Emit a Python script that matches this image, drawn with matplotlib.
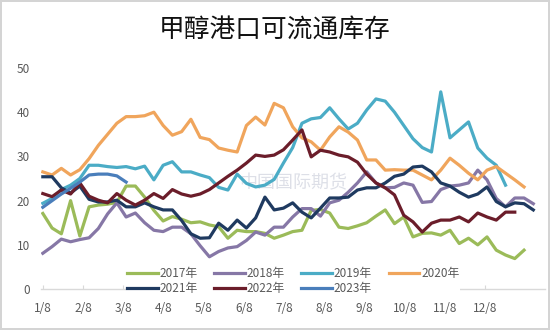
import numpy as np
import matplotlib
matplotlib.use("Agg")
import matplotlib.pyplot as plt

plt.rcParams['font.family'] = ['Noto Sans CJK SC', 'DejaVu Sans']

title = "甲醇港口可流通库存"
month_labels = ["1/8", "2/8", "3/8", "4/8", "5/8", "6/8", "7/8", "8/8", "9/8", "10/8", "11/8", "12/8"]
y_ticks = [0, 10, 20, 30, 40, 50]

s2017 = [17.1, 13.8, 12.5, 20.0, 12.0, 18.6, 19.0, 19.2, 19.6, 23.3, 23.3, 20.8, 17.8, 15.4, 16.4, 15.8,
         15.0, 15.2, 14.5, 14.1, 11.5, 13.3, 13.0, 13.0, 12.6, 11.5, 12.2, 13.0, 13.3, 17.8, 18.0, 17.2,
         14.0, 13.7, 14.3, 15.0, 16.5, 17.9, 14.8, 16.3, 11.8, 12.6, 12.7, 12.2, 13.3, 10.3, 11.5, 10.0,
         11.8, 8.8, 7.7, 6.9, 8.8]
s2018 = [8.1, 9.6, 11.3, 10.7, 11.2, 11.6, 13.7, 17.0, 19.5, 16.3, 17.2, 15.0, 13.3, 13.0, 14.0, 14.0,
         12.5, 9.8, 7.3, 8.5, 9.3, 9.6, 11.0, 12.9, 12.2, 14.0, 14.0, 16.3, 18.2, 18.2, 16.5, 19.5,
         20.1, 21.9, 24.0, 26.5, 24.0, 22.9, 23.0, 24.0, 23.5, 19.6, 19.8, 22.5, 23.3, 23.5, 24.0, 26.9,
         24.7, 20.5, 18.6, 20.6, 20.6, 19.3]
s2019 = [19.4, 20.5, 22.5, 23.5, 25.0, 28.0, 28.0, 27.7, 27.5, 27.7, 27.2, 27.8, 24.7, 28.0, 28.8, 26.5,
         26.5, 25.8, 25.2, 23.0, 22.4, 26.0, 23.9, 23.1, 23.5, 24.8, 28.5, 32.0, 37.5, 38.5, 38.8, 41.0,
         38.5, 36.2, 37.5, 40.5, 43.0, 42.5, 40.0, 37.0, 34.0, 32.0, 31.0, 44.6, 34.2, 36.0, 37.8, 31.9,
         29.6, 28.0, 23.5]
s2020 = [26.5, 25.8, 27.3, 25.8, 27.0, 29.5, 32.5, 35.0, 37.5, 39.0, 39.0, 39.2, 40.0, 37.0, 34.8, 35.6,
         38.4, 34.3, 33.8, 31.9, 31.4, 31.0, 37.0, 38.9, 37.1, 42.0, 41.0, 36.7, 34.2, 33.3, 31.4, 34.4,
         36.7, 35.5, 33.7, 29.2, 29.2, 26.9, 27.0, 26.9, 26.9, 25.8, 24.7, 26.9, 29.6, 28.0, 26.2, 24.7,
         26.9, 27.7, 26.2, 24.7, 23.1]
s2021 = [25.4, 25.4, 22.9, 21.7, 23.3, 20.3, 19.7, 19.7, 20.1, 18.6, 18.6, 19.5, 18.6, 17.9, 17.9, 15.5,
         12.5, 11.5, 11.6, 14.9, 13.3, 15.6, 13.8, 16.1, 20.8, 17.9, 18.3, 19.5, 17.4, 16.1, 18.3, 20.6,
         20.6, 20.8, 22.4, 22.9, 22.9, 24.0, 25.5, 26.0, 27.6, 27.8, 26.5, 24.0, 23.3, 21.9, 20.8, 21.5,
         23.1, 19.8, 18.6, 19.5, 19.3, 17.9]
s2022 = [21.6, 20.9, 22.4, 21.5, 24.0, 21.0, 20.1, 19.5, 21.6, 20.1, 19.0, 20.1, 21.6, 20.5, 22.5, 21.5,
         21.0, 21.5, 22.5, 24.0, 25.5, 26.9, 28.5, 30.3, 30.0, 30.3, 31.5, 33.7, 36.0, 29.9, 31.4, 31.0,
         30.3, 29.9, 28.7, 26.0, 24.0, 22.9, 21.3, 16.7, 15.2, 12.9, 14.9, 15.6, 15.6, 16.3, 15.2, 17.2,
         16.3, 15.6, 17.4, 17.4]
s2023 = [18.5, 20.0, 21.5, 22.8, 24.2, 25.8, 26.0, 26.0, 25.6, 24.2]

series = [
    ("2017年", s2017, "#9BBB59"),
    ("2018年", s2018, "#8677A6"),
    ("2019年", s2019, "#4BACC6"),
    ("2020年", s2020, "#F0A55C"),
    ("2021年", s2021, "#1F3A60"),
    ("2022年", s2022, "#6B1D2A"),
    ("2023年", s2023, "#4A7EBB"),
]

week_per_month = 365.25 / 12 / 7

fig = plt.figure(figsize=(5.5, 3.3), dpi=100)
fig.patch.set_facecolor("white")
fig.patch.set_edgecolor("#d4d4d4")
fig.patch.set_linewidth(1.5)

ax = fig.add_axes([0.0745, 0.124, 0.917, 0.670])

handles = {}
for name, vals, col in series:
    x = np.arange(len(vals))
    h, = ax.plot(x, vals, color=col, lw=2.3, solid_joinstyle="round", zorder=3)
    handles[name] = h

ax.text(0.5, 0.48, "中国国际期货", transform=ax.transAxes, ha="center", va="center",
        fontsize=13, color="#d5d8e2", alpha=0.8, zorder=2)

ax.set_xlim(-0.2, 54.3)
ax.set_ylim(0, 50)
ax.set_yticks(y_ticks)
ax.set_xticks(np.arange(len(month_labels)) * week_per_month)
ax.set_xticklabels(month_labels)

for sp in ["top", "right", "left"]:
    ax.spines[sp].set_visible(False)
ax.spines["bottom"].set_color("#d9d9d9")
ax.spines["bottom"].set_linewidth(1.0)

ax.tick_params(axis="y", length=0, labelsize=8.5, labelcolor="#595959", pad=8)
ax.tick_params(axis="x", length=3, direction="in", color="#d9d9d9", labelsize=8.5,
               labelcolor="#595959", pad=9)

order = ["2017年", "2021年", "2018年", "2022年", "2019年", "2023年", "2020年"]
leg = ax.legend([handles[n] for n in order], order, ncol=4, loc="lower center",
                bbox_to_anchor=(0.5, -0.06), frameon=True, fontsize=8.5,
                handlelength=2.6, handletextpad=0.15, columnspacing=1.4,
                labelspacing=0.15, borderpad=0.1)
leg.get_frame().set_edgecolor("none")
leg.get_frame().set_facecolor("white")
leg.get_frame().set_alpha(1.0)
for t in leg.get_texts():
    t.set_color("#595959")

fig.text(0.5, 0.906, title, ha="center", va="center", fontsize=18.5, color="#111111")

fig.savefig("out.png", dpi=100)
